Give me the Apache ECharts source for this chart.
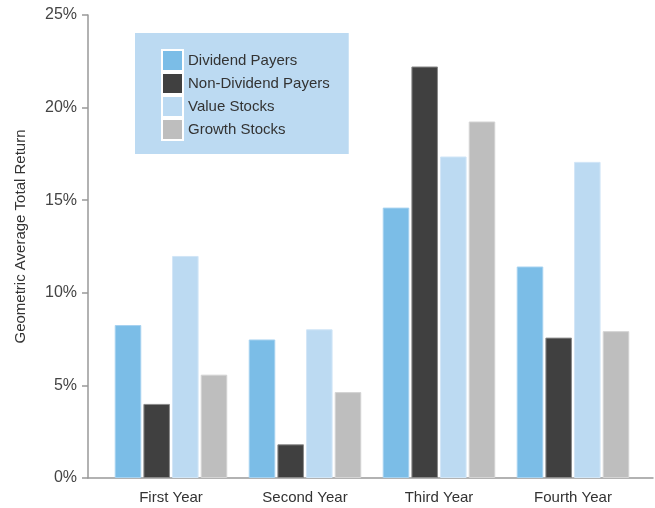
<!DOCTYPE html>
<html><head><meta charset="utf-8">
<script src="https://cdn.jsdelivr.net/npm/echarts@6/dist/echarts.min.js"></script>
<style>html,body{margin:0;padding:0;background:#fff}#c{width:655px;height:508px}</style>
</head><body><div id="c"></div>
<script>
const categories = ['First Year', 'Second Year', 'Third Year', 'Fourth Year'];
const dividendPayers = [8.26, 7.48, 14.6, 11.42];
const nonDividendPayers = [4.0, 1.82, 22.22, 7.58];
const valueStocks = [11.99, 8.03, 17.36, 17.07];
const growthStocks = [5.58, 4.64, 19.25, 7.93];
const seriesNames = ['Dividend Payers', 'Non-Dividend Payers', 'Value Stocks', 'Growth Stocks'];
const seriesData = [dividendPayers, nonDividendPayers, valueStocks, growthStocks];
const colors = ['#7BBDE7', '#404040', '#BCDAF2', '#BEBEBE'];
const borders = ['#A6D2F0', '#8A8A8A', '#D2E6F7', '#D4D4D4'];
const font = 'Liberation Sans';

const chart = echarts.init(document.getElementById('c'));
chart.setOption({
  animation: false,
  textStyle: {fontFamily: font},
  grid: [
    {left: 104, right: 15, top: 15, bottom: 30},
    {left: 88, right: 2, top: 15, bottom: 30}
  ],
  legend: {
    left: 135, top: 33, orient: 'vertical',
    backgroundColor: '#BCDAF2',
    padding: [16, 19, 13, 26],
    itemGap: 0, itemWidth: 21, itemHeight: 21, itemTextGap: 7,
    icon: 'rect',
    itemStyle: {borderColor: '#fff', borderWidth: 2},
    textStyle: {fontSize: 15, color: '#333', fontFamily: font},
    data: seriesNames
  },
  xAxis: [
    {type: 'category', data: categories, gridIndex: 0,
     axisLine: {show: false}, axisTick: {show: false},
     axisLabel: {fontSize: 15, color: '#333', margin: 12}},
    {type: 'value', gridIndex: 1, min: 0, max: 1,
     axisLine: {show: true, lineStyle: {color: '#999', width: 1.5}},
     axisTick: {show: false}, axisLabel: {show: false}, splitLine: {show: false}}
  ],
  yAxis: [
    {type: 'value', gridIndex: 0, min: 0, max: 25, interval: 5, offset: 16,
     name: 'Geometric Average Total Return', nameLocation: 'middle', nameGap: 60,
     nameTextStyle: {fontSize: 15, color: '#333', padding: [0, 0, 0, 20]},
     axisLine: {show: true, lineStyle: {color: '#999', width: 1.5}},
     axisTick: {show: true, length: 6, lineStyle: {color: '#999', width: 1.5}},
     axisLabel: {formatter: '{value}%', fontSize: 16, color: '#444', margin: 11},
     splitLine: {show: false}},
    {type: 'value', gridIndex: 1, show: false}
  ],
  series: seriesNames.map((n, i) => ({
    name: n, type: 'bar', xAxisIndex: 0, yAxisIndex: 0,
    data: seriesData[i],
    barGap: '8%', barCategoryGap: '16%',
    itemStyle: {color: colors[i], borderColor: borders[i], borderWidth: 1}
  }))
});
</script></body></html>
